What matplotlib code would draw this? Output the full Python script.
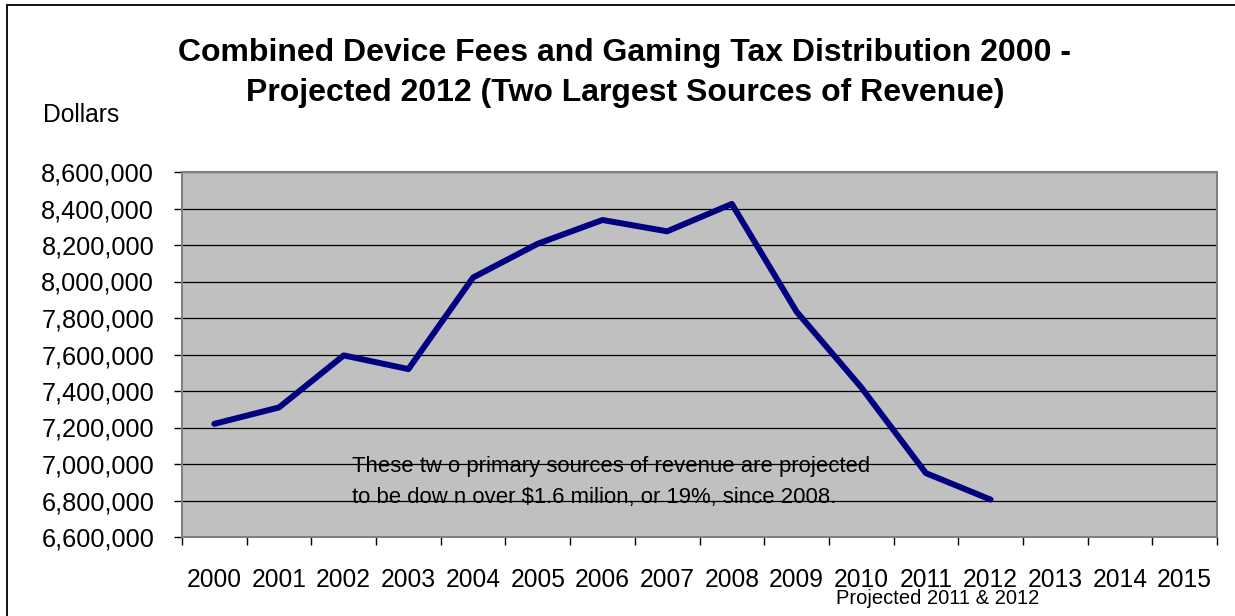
import matplotlib.pyplot as plt
from matplotlib.patches import Rectangle
from matplotlib.ticker import FuncFormatter, FixedLocator

plt.rcParams['font.family'] = ['Liberation Sans', 'DejaVu Sans']

years = [str(y) for y in range(2000, 2016)]
revenue = [7220000, 7310000, 7595000, 7520000, 8022000, 8207000, 8337000,
           8275000, 8425000, 7835000, 7420000, 6950000, 6805000]
y_ticks = list(range(6600000, 8600001, 200000))

title = ("Combined Device Fees and Gaming Tax Distribution 2000 -\n"
         "Projected 2012 (Two Largest Sources of Revenue)")
note_lines = ["These tw o primary sources of revenue are projected",
              "to be dow n over $1.6 milion, or 19%, since 2008."]

fig = plt.figure(figsize=(12.35, 6.16), dpi=100)
ax = fig.add_axes([182 / 1235, 1 - 537 / 616, 1035 / 1235, 365 / 616])
ax.set_facecolor('#C0C0C0')

x = list(range(len(revenue)))
ax.plot(x, revenue, color='#000080', lw=4.3,
        solid_capstyle='round', solid_joinstyle='round', zorder=3)

ax.set_xlim(-0.5, len(years) - 0.5)
ax.set_ylim(y_ticks[0], y_ticks[-1])
ax.set_yticks(y_ticks)
ax.yaxis.set_major_formatter(FuncFormatter(lambda v, p: f"{int(v):,}"))
ax.grid(axis='y', color='black', lw=0.9, zorder=1)
ax.set_axisbelow(True)

# labels sit at category centres, tick marks at category boundaries
ax.set_xticks(range(len(years)))
ax.set_xticklabels(years)
ax.xaxis.set_minor_locator(FixedLocator([i - 0.5 for i in range(len(years) + 1)]))
ax.tick_params(axis='x', which='major', length=0, pad=22, labelsize=17.7)
ax.tick_params(axis='x', which='minor', length=6, width=1, color='black', direction='out')
ax.tick_params(axis='y', length=6, width=1, color='black', pad=14, labelsize=18.3)

for s in ax.spines.values():
    s.set_color('#808080')
    s.set_linewidth(1.5)

fig.text(625 / 1235, 1 - 73 / 616, title, ha='center', va='center',
         fontsize=23, fontweight='bold', linespacing=1.42)
fig.text(43 / 1235, 1 - 115 / 616, "Dollars", ha='left', va='center', fontsize=17.7)
fig.text(938 / 1235, 1 - 599 / 616, "Projected 2011 & 2012", ha='center', va='center',
         fontsize=14.5)

ax.text((352 - 182) / 1035, (537 - 472) / 365, note_lines[0], transform=ax.transAxes,
        ha='left', va='baseline', fontsize=15.9)
ax.text((352 - 182) / 1035, (537 - 503) / 365, note_lines[1], transform=ax.transAxes,
        ha='left', va='baseline', fontsize=15.9)

# outer chart frame
fig.patches.append(Rectangle((7 / 1235, -0.1), 1.2, 1.1 - 5 / 616,
                             transform=fig.transFigure, fill=False,
                             ec='black', lw=1.3))

fig.savefig('out.png', dpi=100)
